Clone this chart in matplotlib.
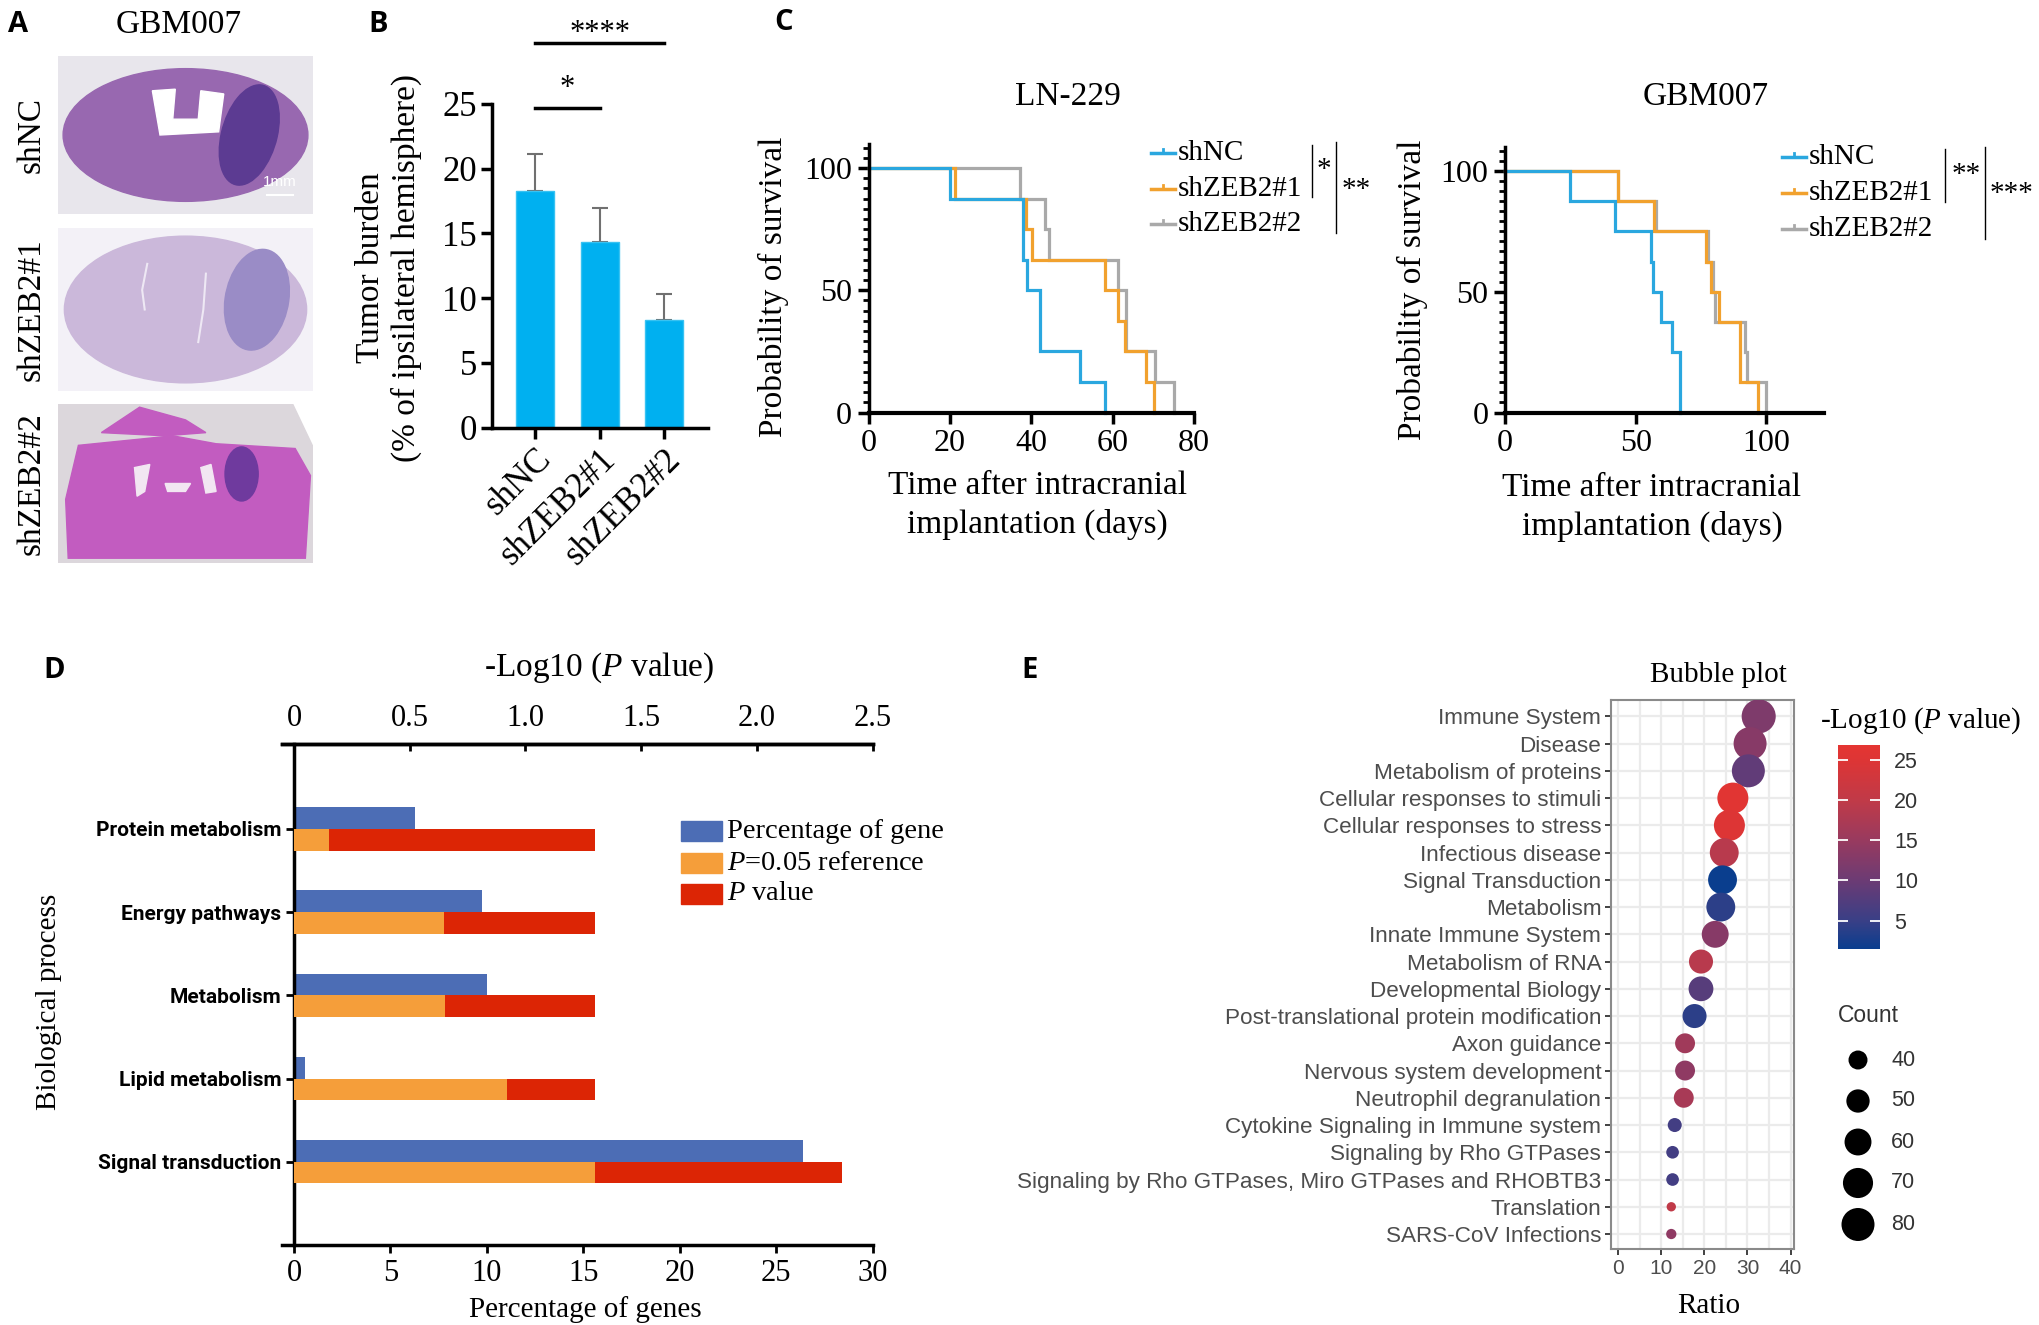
import numpy as np
import matplotlib
matplotlib.use("Agg")
import matplotlib.pyplot as plt
from matplotlib.patches import Ellipse, Polygon, Rectangle
from matplotlib.lines import Line2D
from matplotlib.colors import LinearSegmentedColormap, Normalize
from matplotlib.cm import ScalarMappable
from matplotlib.ticker import MultipleLocator

plt.rcParams['mathtext.fontset'] = 'custom'
plt.rcParams['mathtext.rm'] = 'Liberation Serif'
plt.rcParams['mathtext.it'] = 'Liberation Serif:italic'
SERIF = 'Liberation Serif'
SANS = 'Liberation Sans'

# ---------------- data ----------------
# Panel B
groups = ['shNC', 'shZEB2#1', 'shZEB2#2']
burden_mean = [18.3, 14.3, 8.3]
burden_err = [2.8, 2.7, 2.05]

# Panel C (Kaplan-Meier steps: event times, survival after event)
ln229_names = ['shNC', 'shZEB2#1', 'shZEB2#2']
ln229_shNC_t = [0, 20, 38, 38.9, 42.1, 52, 58.2]
ln229_shNC_s = [100, 87.5, 62.5, 50, 25, 12.5, 0]
ln229_z1_t = [0, 21.2, 38.8, 40.1, 58.2, 61.2, 63.1, 68.3, 70.1]
ln229_z1_s = [100, 87.5, 75, 62.5, 50, 37.5, 25, 12.5, 0]
ln229_z2_t = [0, 37.2, 43.4, 44.4, 61.2, 63.3, 70.5, 75]
ln229_z2_s = [100, 87.5, 75, 62.5, 50, 25, 12.5, 0]

gbm_shNC_t = [0, 24.9, 41.9, 55.8, 56.6, 59.7, 63.7, 66.8]
gbm_shNC_s = [100, 87.5, 75, 62.5, 50, 37.5, 25, 0]
gbm_z1_t = [0, 43.2, 56.8, 77.0, 78.6, 82.0, 89.8, 96.9]
gbm_z1_s = [100, 87.5, 75, 62.5, 50, 37.5, 12.5, 0]
gbm_z2_t = [0, 43.2, 57.8, 77.8, 79.5, 80.5, 91.6, 92.5, 100]
gbm_z2_s = [100, 87.5, 75, 62.5, 50, 37.5, 25, 12.5, 0]

# Panel D
processes = ['Protein metabolism', 'Energy pathways', 'Metabolism',
             'Lipid metabolism', 'Signal transduction']
pct_genes = [6.3, 9.75, 10.0, 0.55, 26.4]
ref_log = [0.153, 0.65, 0.653, 0.921, 1.30]
pval_log = [1.30, 1.30, 1.30, 1.30, 2.367]

# Panel E
pathways = ['Immune System', 'Disease', 'Metabolism of proteins',
            'Cellular responses to stimuli', 'Cellular responses to stress',
            'Infectious disease', 'Signal Transduction', 'Metabolism',
            'Innate Immune System', 'Metabolism of RNA', 'Developmental Biology',
            'Post-translational protein modification', 'Axon guidance',
            'Nervous system development', 'Neutrophil degranulation',
            'Cytokine Signaling in Immune system', 'Signaling by Rho GTPases',
            'Signaling by Rho GTPases, Miro GTPases and RHOBTB3', 'Translation',
            'SARS-CoV Infections']
ratio = [32.6, 30.6, 30.2, 26.6, 25.8, 24.6, 24.2, 23.8, 22.5, 19.2, 19.2,
         17.7, 15.5, 15.5, 15.2, 13.1, 12.6, 12.6, 12.3, 12.3]
count = [84, 80, 80, 73, 73, 66, 66, 66, 60, 52, 54, 52, 42, 42, 42, 31, 29,
         29, 25, 26]
neglogp = [12, 13, 9, 26, 25, 19, 1.5, 4, 13, 19, 8, 4, 16, 14, 17, 6, 6, 6,
           20, 14]
count_legend = [40, 50, 60, 70, 80]

# ---------------- layout helpers ----------------
W, H = 2039, 1325
DPI = 100
fig = plt.figure(figsize=(W / DPI, H / DPI), dpi=DPI)
fig.patch.set_facecolor('white')


def axpx(x0, y0, x1, y1):
    return fig.add_axes([x0 / W, 1 - y1 / H, (x1 - x0) / W, (y1 - y0) / H])


def ftext(x, y, s, **kw):
    kw.setdefault('ha', 'center')
    kw.setdefault('va', 'center')
    return fig.text(x / W, 1 - y / H, s, **kw)


def fline(xs, ys, **kw):
    fig.add_artist(Line2D([x / W for x in xs], [1 - y / H for y in ys],
                          transform=fig.transFigure, **kw))


LETTER = dict(family='Open Sans', weight='bold', fontsize=21, ha='center')
ftext(18, 24, 'A', **LETTER)
ftext(378, 24, 'B', **LETTER)
ftext(784, 23, 'C', **LETTER)
ftext(54, 671, 'D', **LETTER)
ftext(1030, 671, 'E', **LETTER)

# ---------------- Panel A (schematic sections) ----------------
ftext(179, 25, 'GBM007', family=SERIF, fontsize=24)
rows = [(56, 214), (228, 391), (404, 563)]
row_labels = ['shNC', 'shZEB2#1', 'shZEB2#2']
for (y0, y1), lab in zip(rows, row_labels):
    ftext(31, (y0 + y1) / 2, lab, family=SERIF, fontsize=24, rotation=90)

a1 = axpx(58, 56, 313, 214)
a1.add_patch(Rectangle((0, 0), 1, 1, color='#e8e6ec'))
a1.add_patch(Ellipse((0.5, 0.5), 0.96, 0.84, color='#9868b0'))
a1.add_patch(Polygon([(0.37, 0.78), (0.46, 0.79), (0.45, 0.6), (0.55, 0.6),
                      (0.56, 0.78), (0.65, 0.76), (0.63, 0.52), (0.40, 0.5)],
                     color='white'))
a1.add_patch(Ellipse((0.75, 0.5), 0.22, 0.64, angle=-8, color='#5c3b92'))
a1.plot([0.82, 0.92], [0.12, 0.12], color='white', lw=1.5)
a1.text(0.87, 0.2, '1mm', color='white', fontsize=11, ha='center',
        va='center', family=SANS)

a2 = axpx(58, 228, 313, 391)
a2.add_patch(Rectangle((0, 0), 1, 1, color='#f3f1f7'))
a2.add_patch(Ellipse((0.5, 0.5), 0.95, 0.9, color='#cbb8da'))
a2.add_patch(Ellipse((0.78, 0.56), 0.25, 0.62, angle=-5, color='#9a8cc6'))
a2.plot([0.35, 0.33, 0.34], [0.78, 0.62, 0.5], color='#eee8f4', lw=1.5)
a2.plot([0.58, 0.57, 0.55], [0.72, 0.5, 0.3], color='#eee8f4', lw=1.5)

a3 = axpx(58, 404, 313, 563)
a3.add_patch(Polygon([(0, 0), (1, 0), (1, 0.73), (0.92, 1), (0, 1)],
                     color='#dcd7dc'))
a3.add_patch(Polygon([(0.04, 0.03), (0.97, 0.03), (0.99, 0.55), (0.93, 0.72),
                      (0.62, 0.75), (0.45, 0.8), (0.08, 0.74), (0.03, 0.4)],
                     color='#c25cc0'))
a3.add_patch(Polygon([(0.17, 0.82), (0.32, 0.98), (0.5, 0.9), (0.58, 0.82),
                      (0.42, 0.8)], color='#c25cc0'))
a3.add_patch(Ellipse((0.72, 0.56), 0.13, 0.34, color='#6f3a9e'))
a3.add_patch(Polygon([(0.3, 0.6), (0.36, 0.62), (0.34, 0.45), (0.31, 0.42)],
                     color='#f2e6f2'))
a3.add_patch(Polygon([(0.56, 0.6), (0.6, 0.62), (0.62, 0.45), (0.58, 0.44)],
                     color='#f2e6f2'))
a3.add_patch(Polygon([(0.42, 0.5), (0.52, 0.5), (0.5, 0.45), (0.43, 0.45)],
                     color='#f2e6f2'))
for a in (a1, a2, a3):
    a.set_xlim(0, 1)
    a.set_ylim(0, 1)
    a.axis('off')

# ---------------- Panel B ----------------
axB = axpx(492, 104, 708, 427.5)
xb = np.arange(len(groups))
axB.bar(xb, burden_mean, width=0.59, color='#00b0f0', edgecolor='#38c2f2',
        linewidth=1, zorder=2)
axB.errorbar(xb, burden_mean, yerr=[np.zeros(3), burden_err], fmt='none',
             ecolor='#707070', elinewidth=1.5, capsize=5.5, capthick=1.5,
             zorder=1)
axB.set_xlim(-0.667, 2.68)
axB.set_ylim(0, 25)
axB.set_yticks([0, 5, 10, 15, 20, 25])
axB.set_xticks(xb)
axB.set_xticklabels(groups, rotation=45, ha='right', rotation_mode='anchor',
                    family=SERIF, fontsize=25)
for lab in axB.get_yticklabels():
    lab.set_family(SERIF)
    lab.set_fontsize(25)
for s in ('top', 'right'):
    axB.spines[s].set_visible(False)
for s in ('left', 'bottom'):
    axB.spines[s].set_linewidth(2.5)
axB.tick_params(axis='both', width=2.5, length=8, pad=3)
axB.plot([0, 1], [24.7, 24.7], color='black', lw=2.5, clip_on=False)
axB.text(0.5, 25.1, '*', ha='center', va='bottom', fontsize=22, family=SERIF)
axB.plot([0, 2], [29.7, 29.7], color='black', lw=2.5, clip_on=False)
axB.text(1.0, 29.3, '****', ha='center', va='bottom', fontsize=22,
         family=SERIF)
ftext(389, 268, 'Tumor burden\n(% of ipsilateral hemisphere)', family=SERIF,
      fontsize=24, rotation=90, linespacing=1.2)

# ---------------- Panel C ----------------
C_BLUE, C_ORANGE, C_GRAY = '#2aa7df', '#f1a12e', '#a9a9a9'


def km_axes(ax, curves, xmax, xticks):
    for t, s, c in curves:
        ax.step(t, s, where='post', color=c, lw=2.3, clip_on=False,
                solid_joinstyle='miter')
    ax.set_xlim(0, xmax)
    ax.set_ylim(0, 110)
    ax.set_xticks(xticks)
    ax.set_yticks([0, 50, 100])
    ax.yaxis.set_minor_locator(MultipleLocator(50 / 12))
    for s in ('top', 'right'):
        ax.spines[s].set_visible(False)
    ax.spines['left'].set_linewidth(2.5)
    ax.spines['bottom'].set_linewidth(3)
    ax.tick_params(axis='both', which='major', width=2.5, length=8, pad=4,
                   labelsize=23)
    ax.tick_params(axis='y', which='minor', width=2, length=4.5)
    for lab in ax.get_xticklabels() + ax.get_yticklabels():
        lab.set_family(SERIF)


axC1 = axpx(868.5, 143.5, 1194, 412.5)
km_axes(axC1, [(ln229_z2_t, ln229_z2_s, C_GRAY),
               (ln229_z1_t, ln229_z1_s, C_ORANGE),
               (ln229_shNC_t, ln229_shNC_s, C_BLUE)], 80, [0, 20, 40, 60, 80])
axC2 = axpx(1505, 146.8, 1824, 412.5)
km_axes(axC2, [(gbm_z2_t, gbm_z2_s, C_GRAY),
               (gbm_z1_t, gbm_z1_s, C_ORANGE),
               (gbm_shNC_t, gbm_shNC_s, C_BLUE)], 122, [0, 50, 100])

ftext(1068, 97, 'LN-229', family=SERIF, fontsize=24)
ftext(1706, 97, 'GBM007', family=SERIF, fontsize=24)
ftext(773, 287, 'Probability of survival', family=SERIF, fontsize=24,
      rotation=90)
ftext(1412, 290, 'Probability of survival', family=SERIF, fontsize=24,
      rotation=90)
ftext(1037, 486, 'Time after intracranial', family=SERIF, fontsize=24)
ftext(1037, 524, 'implantation (days)', family=SERIF, fontsize=24)
ftext(1652, 488, 'Time after intracranial', family=SERIF, fontsize=24)
ftext(1652, 526, 'implantation (days)', family=SERIF, fontsize=24)


def km_legend(x0, ys, names, colors):
    for y, n, c in zip(ys, names, colors):
        fline([x0, x0 + 24], [y, y], color=c, lw=2.5)
        fline([x0 + 12, x0 + 12], [y - 4, y], color=c, lw=2)
        ftext(x0 + 27, y, n, family=SERIF, fontsize=21, ha='left')


km_legend(1151, [153, 189, 224], ln229_names, [C_BLUE, C_ORANGE, C_GRAY])
km_legend(1782, [157, 192.5, 229], ln229_names, [C_BLUE, C_ORANGE, C_GRAY])
fline([1312, 1312], [145, 197], color='black', lw=1)
ftext(1324, 170, '*', family=SERIF, fontsize=21)
fline([1336, 1336], [142, 233], color='black', lw=1)
ftext(1356, 190, '**', family=SERIF, fontsize=21)
fline([1945, 1945], [149, 202], color='black', lw=1)
ftext(1966, 175, '**', family=SERIF, fontsize=21)
fline([1985, 1985], [147, 239], color='black', lw=1)
ftext(2012, 194, '***', family=SERIF, fontsize=21)

# ---------------- Panel D ----------------
axD = axpx(282, 744, 872.6, 1245)
yd = np.arange(len(processes))
axD.barh(yd - 0.26, pct_genes, height=0.26, align='edge', color='#4c6db5')
axD.set_xlim(-0.62, 30)
axD.set_ylim(5.0, -1.02)
axT = axD.twiny()
axT.set_xlim(-0.62 / 12, 2.5)
axT.barh(yd, pval_log, height=0.26, align='edge', color='#dc2505')
axT.barh(yd, ref_log, height=0.26, align='edge', color='#f59e3a')
axD.set_ylim(5.0, -1.02)
axD.spines['right'].set_visible(False)
axD.spines['left'].set_position(('data', 0))
for s in ('left', 'top', 'bottom'):
    axD.spines[s].set_linewidth(2.5)
for s in axT.spines.values():
    s.set_visible(False)
axT.spines['top'].set_visible(True)
axT.spines['top'].set_linewidth(2.5)
axD.set_xticks([0, 5, 10, 15, 20, 25, 30])
axT.set_xticks([0, 0.5, 1.0, 1.5, 2.0, 2.5])
axT.set_xticklabels(['0', '0.5', '1.0', '1.5', '2.0', '2.5'])
axD.set_yticks(yd)
axD.set_yticklabels(processes, family='Roboto', weight='bold', fontsize=15)
axD.tick_params(axis='x', width=2, length=6, labelsize=22, pad=4)
axT.tick_params(axis='x', width=2, length=5, direction='in', labelsize=22,
                pad=8)
axD.tick_params(axis='y', width=2, length=6, pad=3)
for lab in axD.get_xticklabels() + axT.get_xticklabels():
    lab.set_family(SERIF)
ftext(599, 668, r'-Log10 ($\mathit{P}$ value)', family=SERIF, fontsize=24)
ftext(585, 1310, 'Percentage of genes', family=SERIF, fontsize=21)
ftext(49, 1002, 'Biological process', family=SERIF, fontsize=21, rotation=90)
leg_labels = ['Percentage of gene', r'$\mathit{P}$=0.05 reference',
              r'$\mathit{P}$ value']
leg_colors = ['#4c6db5', '#f59e3a', '#dc2505']
for yy, lab, col in zip([831, 863, 894], leg_labels, leg_colors):
    fig.add_artist(Rectangle((681 / W, 1 - (yy + 10) / H), 41 / W, 20 / H,
                             transform=fig.transFigure, color=col))
    ftext(727, yy, lab, family=SERIF, fontsize=20.5, ha='left')

# ---------------- Panel E ----------------
bp_cmap = LinearSegmentedColormap.from_list(
    'bp', [(0, '#0a3e8e'), (0.14, '#3a3f86'), (0.336, '#6c3b74'),
           (0.532, '#983a5f'), (0.729, '#c03a48'), (0.925, '#dd3535'),
           (1, '#e43532')])
bp_norm = Normalize(1.45, 26.9)


def bubble_size(c):
    d2 = 18.2 * (np.asarray(c, float) - 20.2)
    return d2 / (DPI / 72) ** 2


axE = axpx(1611, 700, 1794, 1249)
ye = np.arange(len(pathways))
axE.set_xlim(-1.7, 40.8)
axE.set_ylim(19.55, -0.6)
axE.set_xticks([0, 10, 20, 30, 40])
axE.set_xticks([5, 15, 25, 35], minor=True)
axE.set_yticks(ye)
axE.set_yticklabels(pathways)
axE.grid(True, which='both', color='#ebebeb', lw=1.6)
axE.set_axisbelow(True)
axE.scatter(ratio, ye, s=bubble_size(count), c=neglogp, cmap=bp_cmap,
            norm=bp_norm, edgecolors='none', zorder=3)
for s in axE.spines.values():
    s.set_color('#8a8a8a')
    s.set_linewidth(1.5)
axE.tick_params(axis='y', which='major', color='#333333', length=4,
                width=1.3, labelsize=16.2, labelcolor='#4d4d4d', pad=3)
axE.tick_params(axis='x', which='major', color='#333333', length=4,
                width=1.3, labelsize=15, labelcolor='#4d4d4d', pad=3)
axE.tick_params(axis='x', which='minor', length=0)
for lab in axE.get_xticklabels() + axE.get_yticklabels():
    lab.set_family(SANS)
ftext(1718, 675, 'Bubble plot', family=SERIF, fontsize=21)
ftext(1709, 1306, 'Ratio', family=SERIF, fontsize=21)

cax = axpx(1838, 745, 1880, 949)
cb = fig.colorbar(ScalarMappable(norm=bp_norm, cmap=bp_cmap), cax=cax)
cb.outline.set_visible(False)
cb.set_ticks([5, 10, 15, 20, 25])
cax.tick_params(direction='in', color='white', length=7, width=1.3,
                left=True, right=True, labelsize=15.5, labelcolor='#333333',
                pad=10)
for lab in cax.get_yticklabels():
    lab.set_family(SANS)
ftext(1921, 721, r'-Log10 ($\mathit{P}$ value)', family=SERIF, fontsize=21)

ftext(1838, 1015, 'Count', family=SANS, fontsize=16.5, ha='left',
      color='#333333')
lax = axpx(1830, 1040, 1960, 1245)
lax.set_xlim(1830, 1960)
lax.set_ylim(1245, 1040)
lax.axis('off')
leg_y = [1060, 1101, 1142, 1183, 1224.5]
lax.scatter([1858] * len(count_legend), leg_y, s=bubble_size(count_legend),
            color='black', edgecolors='none', clip_on=False)
for yy, c in zip(leg_y, count_legend):
    lax.text(1891, yy, str(c), fontsize=15.5, family=SANS, color='#333333',
             va='center', ha='left')

fig.savefig('out.png', dpi=DPI)
